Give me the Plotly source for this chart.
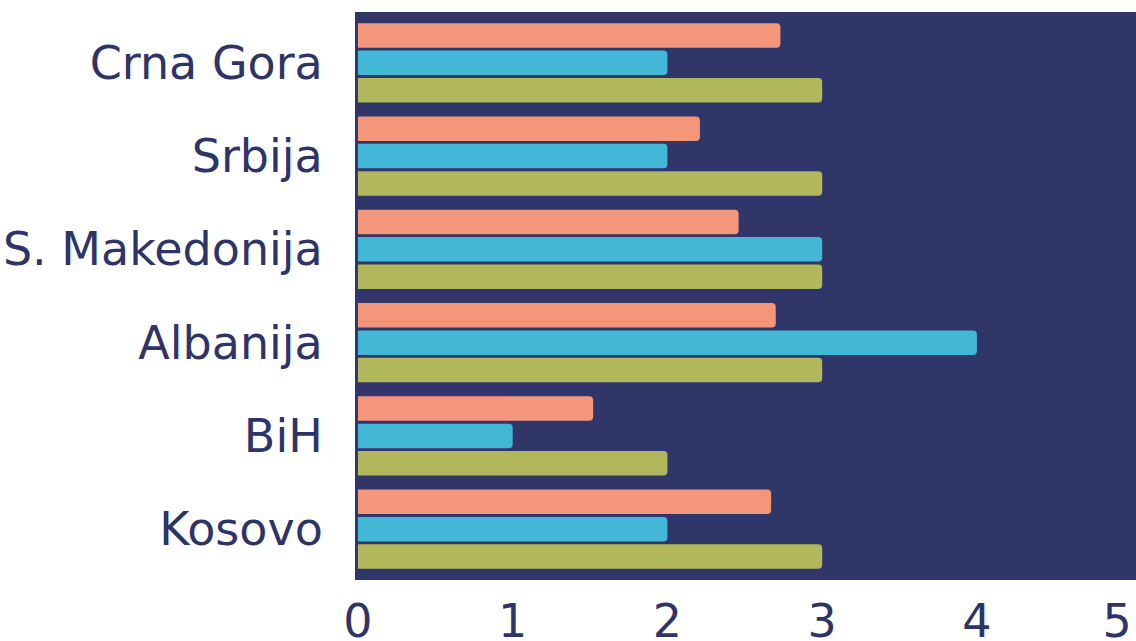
import plotly.graph_objects as go

categories = ["Crna Gora", "Srbija", "S. Makedonija", "Albanija", "BiH", "Kosovo"]
series_a = [2.73, 2.21, 2.46, 2.70, 1.52, 2.67]   # salmon
series_b = [2.0, 2.0, 3.0, 4.0, 1.0, 2.0]         # cyan
series_c = [3.0, 3.0, 3.0, 3.0, 2.0, 3.0]         # olive
x_ticks = [0, 1, 2, 3, 4, 5]
x_labels = ["0", "1", "2", "3", "4", "5\u2007"]

colors = ["#F4967A", "#43B8D6", "#B0B85B"]
navy = "#313669"
text_color = "#2E3468"
font_family = "DejaVu Sans"

fig = go.Figure()
for vals, col, name in zip([series_a, series_b, series_c], colors, ["A", "B", "C"]):
    fig.add_trace(go.Bar(
        y=categories, x=vals, orientation="h", name=name,
        marker=dict(color=col, line=dict(width=0)),
    ))

fig.update_layout(
    width=1136, height=641,
    margin=dict(l=355, r=0, t=12, b=61),
    paper_bgcolor="white",
    plot_bgcolor=navy,
    barmode="group",
    bargap=0.121,
    bargroupgap=0.104,
    barcornerradius=4,
    showlegend=False,
    font=dict(family=font_family, color=text_color, size=46),
    xaxis=dict(
        range=[-0.019, 5.028], tickvals=x_ticks, ticktext=x_labels,
        showgrid=False, zeroline=False, showline=False, automargin=False,
        ticks="outside", ticklen=1, tickcolor="rgba(0,0,0,0)",
        ticklabeloverflow="allow",
        tickfont=dict(size=46, color=text_color, family=font_family),
    ),
    yaxis=dict(
        type="category", categoryorder="array", categoryarray=categories,
        range=[5.545, -0.545], automargin=False,
        showgrid=False, zeroline=False, showline=False,
        ticks="outside", ticklen=22, tickcolor="rgba(0,0,0,0)",
        tickfont=dict(size=46, color=text_color, family=font_family),
    ),
)

fig.write_html("out.html", config={"displayModeBar": False},
               post_script="document.body.style.margin='0';")
